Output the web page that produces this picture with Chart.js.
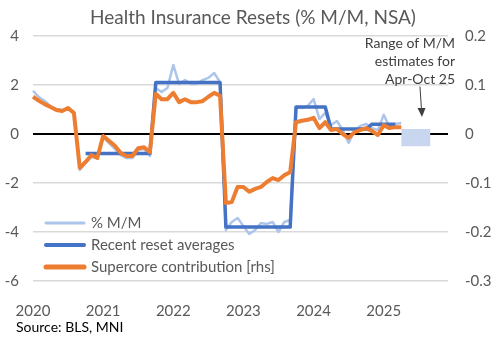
<!DOCTYPE html>
<html>
<head>
<meta charset="utf-8">
<script src="https://cdn.jsdelivr.net/npm/chart.js@4.4.1/dist/chart.umd.min.js"></script>
<style>
  body { margin: 0; background: #fff; }
  #wrap { width: 494px; height: 341px; }
</style>
</head>
<body>
<div id="wrap"><canvas id="resetChart" width="494" height="341"></canvas></div>
<script>
// Monthly labels, Jan 2020 .. Dec 2025
var months = [];
for (var y = 2020; y <= 2025; y++) {
    for (var m = 1; m <= 12; m++) {
        months.push(y + '-' + (m < 10 ? '0' + m : m));
    }
}

// Health insurance CPI, % M/M (lhs), Jan 2020 .. Apr 2025
var mmChange = [
    1.76, 1.51, 1.35, 1.14, 1.02, 0.98, 1.02, 0.90, -1.47, -1.18, -0.94, -0.98,
    -0.12, -0.37, -0.61, -0.86, -0.98, -0.98, -0.65, -0.61, -0.90, 1.88, 1.71, 1.88,
    2.82, 2.04, 2.20, 2.04, 2.04, 2.20, 2.29, 2.49, 2.12, -3.92, -3.59, -3.43,
    -3.76, -4.08, -3.92, -3.63, -3.67, -3.59, -4.00, -3.59, -3.51, 1.10, 1.06, 1.14,
    1.43, 0.61, 0.86, 0.37, 0.53, 0.16, -0.37, 0.12, 0.33, 0.41, 0.24, 0.16,
    0.78, 0.29, 0.41, 0.45
];

// Average M/M over each reset period (lhs)
var resetAvg = [
    null, null, null, null, null, null, null, null, null, -0.8, -0.8, -0.8,
    -0.8, -0.8, -0.8, -0.8, -0.8, -0.8, -0.8, -0.8, -0.8, 2.1, 2.1, 2.1,
    2.1, 2.1, 2.1, 2.1, 2.1, 2.1, 2.1, 2.1, 2.1, -3.8, -3.8, -3.8,
    -3.8, -3.8, -3.8, -3.8, -3.8, -3.8, -3.8, -3.8, -3.8, 1.1, 1.1, 1.1,
    1.1, 1.1, 1.1, 0.2, 0.2, 0.2, 0.2, 0.2, 0.2, 0.2, 0.4, 0.4,
    0.4, 0.4, 0.4
];

// Contribution to supercore M/M, pp (rhs)
var supercore = [
    0.076, 0.068, 0.061, 0.055, 0.049, 0.047, 0.053, 0.043, -0.069, -0.057, -0.043, -0.049,
    -0.004, -0.014, -0.024, -0.039, -0.045, -0.045, -0.029, -0.027, -0.037, 0.082, 0.071, 0.071,
    0.084, 0.065, 0.071, 0.065, 0.065, 0.067, 0.076, 0.084, 0.078, -0.141, -0.139, -0.108,
    -0.108, -0.118, -0.112, -0.108, -0.098, -0.090, -0.094, -0.084, -0.078, 0.024, 0.027, 0.029,
    0.033, 0.012, 0.024, 0.008, 0.010, 0.000, -0.008, 0.004, 0.008, 0.012, 0.006, -0.002,
    0.018, 0.012, 0.014, 0.014
];

// Range of M/M estimates, Apr .. Sep 2025 span (lhs)
var estHigh = [];
var estLow = [];
for (var i = 0; i < months.length; i++) {
    var inRange = i >= 63 && i <= 68;
    estHigh.push(inRange ? 0.2 : null);
    estLow.push(inRange ? -0.5 : null);
}

var leftTicks = [-6, -4, -2, 0, 2, 4];
var rightTicks = [-0.3, -0.2, -0.1, 0, 0.1, 0.2];

var FONT = 'Lato, "Open Sans", sans-serif';
var GREY = '#595959';

var legendItems = [
    { text: '% M/M', color: '#adc5ea', width: 3 },
    { text: 'Recent reset averages', color: '#4472c4', width: 4 },
    { text: 'Supercore contribution [rhs]', color: '#ed7d31', width: 5 }
];

// Title, source line, legend and the estimate note
var decorations = {
    id: 'decorations',
    afterDraw: function(chart) {
        var ctx = chart.ctx;
        ctx.save();
        ctx.fillStyle = GREY;
        ctx.textBaseline = 'middle';
        ctx.font = '19px ' + FONT;
        ctx.textAlign = 'center';
        ctx.fillText('Health Insurance Resets (% M/M, NSA)', 253, 18);

        ctx.fillStyle = '#000';
        ctx.textAlign = 'left';
        ctx.font = '14px ' + FONT;
        ctx.fillText('Source: BLS, MNI', 16, 327);

        ctx.font = '15px ' + FONT;
        legendItems.forEach(function(item, k) {
            var ly = 223 + k * 22;
            ctx.strokeStyle = item.color;
            ctx.lineWidth = item.width;
            ctx.lineCap = 'round';
            ctx.beginPath();
            ctx.moveTo(46, ly);
            ctx.lineTo(84, ly);
            ctx.stroke();
            ctx.fillStyle = GREY;
            ctx.fillText(item.text, 91, ly);
        });

        ctx.fillStyle = '#404040';
        ctx.textAlign = 'right';
        ctx.font = '14px ' + FONT;
        ctx.fillText('Range of M/M', 455, 43);
        ctx.fillText('estimates for', 455, 61);
        ctx.fillText('Apr-Oct 25', 455, 79);

        // arrow down to the shaded range
        ctx.strokeStyle = '#404040';
        ctx.fillStyle = '#404040';
        ctx.lineWidth = 1;
        ctx.beginPath();
        ctx.moveTo(420, 87);
        ctx.lineTo(421.5, 110);
        ctx.stroke();
        ctx.beginPath();
        ctx.moveTo(417.5, 108);
        ctx.lineTo(425.5, 108);
        ctx.lineTo(422, 117);
        ctx.closePath();
        ctx.fill();
        ctx.restore();
    }
};

var ctx = document.getElementById('resetChart').getContext('2d');
var chart = new Chart(ctx, {
    type: 'line',
    data: {
        labels: months,
        datasets: [{
            label: 'Supercore contribution [rhs]',
            data: supercore,
            yAxisID: 'yRight',
            borderColor: '#ed7d31',
            borderWidth: 4,
            order: 0
        }, {
            label: 'Recent reset averages',
            data: resetAvg,
            yAxisID: 'y',
            borderColor: '#4472c4',
            borderWidth: 3.5,
            order: 1
        }, {
            label: '% M/M',
            data: mmChange,
            yAxisID: 'y',
            borderColor: '#adc5ea',
            borderWidth: 2.5,
            order: 2
        }, {
            label: 'est high',
            data: estHigh,
            yAxisID: 'y',
            borderWidth: 0,
            backgroundColor: '#c8d6ef',
            fill: '+1',
            order: 3
        }, {
            label: 'est low',
            data: estLow,
            yAxisID: 'y',
            borderWidth: 0,
            fill: false,
            order: 4
        }]
    },
    options: {
        responsive: false,
        animation: false,
        devicePixelRatio: 1,
        layout: { padding: { top: 36, left: 0, right: 0, bottom: 0 } },
        elements: {
            point: { radius: 0 },
            line: { tension: 0, borderJoinStyle: 'round', fill: false }
        },
        plugins: {
            legend: { display: false },
            tooltip: { enabled: false }
        },
        scales: {
            x: {
                grid: { display: false },
                border: { display: false },
                ticks: {
                    autoSkip: false,
                    maxRotation: 0,
                    padding: 13,
                    color: GREY,
                    font: { family: FONT, size: 15 },
                    callback: function(val, idx) {
                        return idx % 12 === 0 ? months[idx].slice(0, 4) : '';
                    }
                },
                afterFit: function(s) { s.height = 60; }
            },
            y: {
                position: 'left',
                min: -6,
                max: 4,
                afterBuildTicks: function(s) {
                    s.ticks = leftTicks.map(function(v) { return { value: v }; });
                },
                grid: {
                    drawTicks: false,
                    color: function(c) { return c.tick.value === 0 ? '#000' : '#d9d9d9'; },
                    lineWidth: function(c) { return c.tick.value === 0 ? 2 : 1.5; }
                },
                border: { display: false },
                ticks: {
                    padding: 14,
                    color: GREY,
                    font: { family: FONT, size: 15 }
                },
                afterFit: function(s) { s.width = 33; }
            },
            yRight: {
                position: 'right',
                min: -0.3,
                max: 0.2,
                afterBuildTicks: function(s) {
                    s.ticks = rightTicks.map(function(v) { return { value: v }; });
                },
                grid: { display: false, drawTicks: false },
                border: { display: false },
                ticks: {
                    padding: 17,
                    color: GREY,
                    font: { family: FONT, size: 15 },
                    callback: function(v) { return String(Math.round(v * 10) / 10); }
                },
                afterFit: function(s) { s.width = 46; }
            }
        }
    },
    plugins: [decorations]
});
</script>
</body>
</html>
